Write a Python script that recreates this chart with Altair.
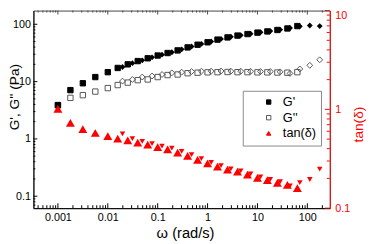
import altair as alt
import pandas as pd

# ---- data ----
omega_A = [0.001, 0.00178, 0.00316, 0.00562, 0.01, 0.0158, 0.0251, 0.0398, 0.0631, 0.1,
           0.158, 0.251, 0.398, 0.631, 1.0, 1.58, 2.51, 3.98, 6.31, 10.0,
           15.8, 25.1, 39.8, 63.1]
gp_A = [3.9, 7.1, 9.35, 12.0, 14.6, 17.3, 20.0, 22.8, 25.5, 28.5,
        31.5, 35.0, 39.5, 44.0, 48.5, 54.0, 59.0, 63.5, 67.5, 71.5,
        75.0, 79.5, 84.5, 93.0]
gpp_A = [3.85, 5.2, 5.8, 6.7, 7.7, 8.7, 9.6, 10.6, 10.9, 12.0,
         13.0, 13.3, 14.0, 14.3, 14.5, 14.6, 14.7, 14.6, 14.6, 14.5,
         14.5, 14.4, 14.3, 14.6]
tan_A = [1.0, 0.72, 0.625, 0.57, 0.53, 0.50, 0.48, 0.455, 0.435, 0.41,
         0.39, 0.36, 0.335, 0.305, 0.28, 0.26, 0.243, 0.232, 0.216, 0.2,
         0.19, 0.178, 0.17, 0.158]

omega_B = [0.0197, 0.0311, 0.049, 0.0771, 0.122, 0.192, 0.302, 0.477, 0.751, 1.18,
           1.86, 2.93, 4.62, 7.28, 11.5, 18.1, 28.5, 44.9, 70.7, 112, 177]
gp_B = [18.0, 21.0, 23.5, 26.5, 29.5, 32.5, 36.5, 41.0, 45.5, 50.0,
        55.5, 60.5, 64.5, 68.5, 72.5, 76.0, 80.5, 86.0, 92.0, 95.0, 93.0]
gpp_B = [10.2, 10.9, 12.0, 12.5, 13.3, 14.2, 14.6, 15.0, 15.2, 15.2,
         15.3, 15.2, 15.2, 15.1, 15.0, 15.0, 14.8, 13.9, 16.6, 19.2, 24.0]
tan_B = [0.566, 0.505, 0.475, 0.45, 0.425, 0.405, 0.375, 0.348, 0.318, 0.29,
         0.27, 0.25, 0.238, 0.222, 0.207, 0.196, 0.185, 0.168, 0.181, 0.195, 0.248]

series_names = ["G'", "G''", "tan(δ)"]
x_major = [0.001, 0.01, 0.1, 1, 10, 100]
yl_major = [0.1, 1, 10, 100]
yr_major = [0.1, 1, 10]

# ---- layout ----
W, H = 303, 202
FONT = "Liberation Sans"
XMIN, XMAX = 0.000323, 282
YLMIN, YLMAX = 0.0619, 173.4
YRMIN, YRMAX = 0.1, 10

x_minor = [k * 10.0 ** e for e in range(-4, 3) for k in range(2, 10) if XMIN < k * 10.0 ** e < XMAX]
yl_minor = [k * 10.0 ** e for e in range(-2, 3) for k in range(2, 10) if YLMIN < k * 10.0 ** e < YLMAX]
yr_minor = [k * 10.0 ** e for e in range(-1, 1) for k in range(2, 10)]

x_scale = alt.Scale(type="log", domain=[XMIN, XMAX])
yl_scale = alt.Scale(type="log", domain=[YLMIN, YLMAX])
yr_scale = alt.Scale(type="log", domain=[YRMIN, YRMAX])

x_axis = alt.Axis(values=x_major, format="~g", ticks=False, grid=False,
                  domainColor="black", domainWidth=1, labelColor="black",
                  labelFontSize=11, labelPadding=4, labelFont=FONT,
                  title="ω (rad/s)", titleFont=FONT, titleFontSize=15,
                  titleFontWeight="normal", titleColor="black",
                  titleX=155, titleY=25, titleBaseline="middle")
yl_axis = alt.Axis(values=yl_major, format="~g", ticks=False, grid=False,
                   domainColor="black", domainWidth=1, labelColor="black",
                   labelFontSize=11, labelPadding=3, labelFont=FONT,
                   title="G', G'' (Pa)", titleFont=FONT, titleFontSize=14,
                   titleFontWeight="normal", titleColor="black",
                   titleAngle=270, titleX=-19, titleY=88, titleBaseline="middle")
yr_axis = alt.Axis(values=yr_major, format="~g", ticks=False, grid=False, orient="right",
                   domainColor="red", domainWidth=1, labelColor="red",
                   labelFontSize=11, labelPadding=5, labelFont=FONT,
                   labelOffset={"condition": {"test": "datum.value >= 10", "value": 5}, "value": 0},
                   title="tan(δ)", titleFont=FONT, titleFontSize=14,
                   titleFontWeight="normal", titleColor="red",
                   titleAngle=270, titleX=29, titleY=116, titleBaseline="middle")

legend = alt.Legend(title=None, orient="none", legendX=214, legendY=82,
                    fillColor="white", strokeColor="#888", padding=5,
                    symbolOffset=15, labelOffset=8, rowPadding=2, symbolSize=20,
                    symbolStrokeWidth=1, labelFontSize=13, labelFont=FONT,
                    labelColor="black", cornerRadius=0)

shape_scale = alt.Scale(domain=series_names, range=["square", "square", "triangle-up"])
fill_scale = alt.Scale(domain=series_names, range=["black", "transparent", "red"])
stroke_scale = alt.Scale(domain=series_names, range=["black", "#555555", "red"])


def X():
    return alt.X("omega:Q", scale=x_scale, axis=x_axis)


def legend_enc():
    return dict(
        shape=alt.Shape("series:N", scale=shape_scale, legend=legend),
        fill=alt.Fill("series:N", scale=fill_scale, legend=legend),
        stroke=alt.Stroke("series:N", scale=stroke_scale, legend=legend),
    )


dfA_left = pd.DataFrame({
    "omega": omega_A + omega_A,
    "value": gpp_A + gp_A,
    "series": ["G''"] * len(omega_A) + ["G'"] * len(omega_A),
})
dfA_tan = pd.DataFrame({"omega": omega_A, "value": tan_A, "series": ["tan(δ)"] * len(omega_A)})
dfB = pd.DataFrame({"omega": omega_B, "gp": gp_B, "gpp": gpp_B, "tan": tan_B})

A_left = alt.Chart(dfA_left).mark_point(filled=False, size=30, strokeWidth=1, opacity=1).encode(
    x=X(), y=alt.Y("value:Q", scale=yl_scale, axis=yl_axis), **legend_enc())

B_gpp = alt.Chart(dfB).mark_point(shape="diamond", filled=False, size=36, strokeWidth=1,
                                  color="#555555", opacity=1).encode(
    x=X(), y=alt.Y("gpp:Q", scale=yl_scale, axis=yl_axis))
B_gp = alt.Chart(dfB).mark_point(shape="diamond", filled=True, size=36,
                                 color="black", opacity=1).encode(
    x=X(), y=alt.Y("gp:Q", scale=yl_scale, axis=yl_axis))


def vrule(vals, length, top, color):
    df = pd.DataFrame({"omega": vals})
    enc = dict(y=alt.value(0), y2=alt.value(length)) if top else dict(y=alt.value(H), y2=alt.value(H - length))
    return alt.Chart(df).mark_rule(color=color, strokeWidth=1).encode(x=X(), **enc)


def hrule(vals, length, right, scale, axis, color):
    df = pd.DataFrame({"v": vals})
    enc = dict(x=alt.value(W), x2=alt.value(W - length)) if right else dict(x=alt.value(0), x2=alt.value(length))
    return alt.Chart(df).mark_rule(color=color, strokeWidth=1).encode(
        y=alt.Y("v:Q", scale=scale, axis=axis), **enc)


left_group = alt.layer(
    vrule(x_major, 5, False, "black"), vrule(x_minor, 3, False, "black"),
    vrule(x_major, 4, True, "#444"), vrule(x_minor, 2, True, "#444"),
    hrule(yl_major, 4, False, yl_scale, yl_axis, "black"),
    hrule(yl_minor, 2, False, yl_scale, yl_axis, "black"),
    A_left, B_gpp, B_gp,
)

A_tan = alt.Chart(dfA_tan).mark_point(filled=True, size=32, opacity=1).encode(
    x=X(), y=alt.Y("value:Q", scale=yr_scale, axis=yr_axis), **legend_enc())
B_tan = alt.Chart(dfB).mark_point(shape="triangle-down", filled=True, size=32,
                                  color="red", opacity=1).encode(
    x=X(), y=alt.Y("tan:Q", scale=yr_scale, axis=yr_axis))

right_group = alt.layer(
    hrule(yr_major, 5, True, yr_scale, yr_axis, "red"),
    hrule(yr_minor, 3, True, yr_scale, yr_axis, "red"),
    A_tan, B_tan,
)

chart = alt.layer(left_group, right_group).resolve_scale(y="independent").properties(
    width=W, height=H, autosize="none",
    padding={"left": 26, "top": 0, "right": 37, "bottom": 34},
).configure(font=FONT).configure_view(stroke="#444", strokeWidth=1)

chart.save("out.html", embed_options={"renderer": "svg", "actions": False})
